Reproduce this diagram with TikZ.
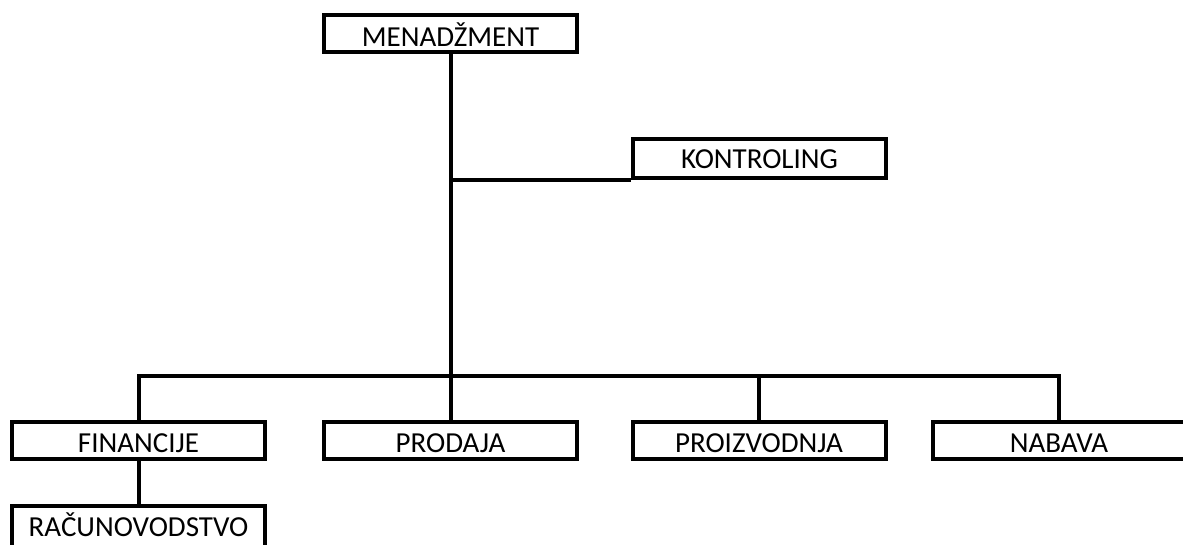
\documentclass[tikz,border=0pt]{standalone}
\usepackage{fontspec}
\setmainfont{Carlito}
\begin{document}
\begin{tikzpicture}[x=1pt,y=-1pt,
  orgbox/.style={draw, line width=4pt, minimum width=253pt, minimum height=37pt, inner sep=0pt, text height=25pt, text depth=0pt, font=\fontsize{29}{32}\selectfont, fill=white},
  link/.style={line width=4pt}]
\useasboundingbox (0,0) rectangle (1183,545);
\clip (0,0) rectangle (1183,545);
\node[orgbox, text height=27pt] (men) at (450.5,33.5) {MENADŽMENT};
\node[orgbox, minimum height=39pt, text height=19pt] (kon) at (759.5,159) {KONTROLING};
\node[orgbox] (fin) at (138.5,440) {FINANCIJE};
\node[orgbox] (prod) at (450.5,440) {PRODAJA};
\node[orgbox] (proiz) at (759,440) {PROIZVODNJA};
\node[orgbox] (nab) at (1059,440) {NABAVA};
\node[orgbox, minimum height=49pt, text height=12.4pt] (rac) at (138.5,530.5) {RAČUNOVODSTVO};
\coordinate (bar) at (450.5,376);
\draw[link] (men.south) -- (prod.north);
\draw[link] (men.south |- kon.south) -- (kon.south west);
\draw[link] (fin.north) |- (bar) -| (nab.north);
\draw[link] (proiz.north) -- (proiz.north |- bar);
\draw[link] (fin.south) -- (rac.north);
\end{tikzpicture}
\end{document}
